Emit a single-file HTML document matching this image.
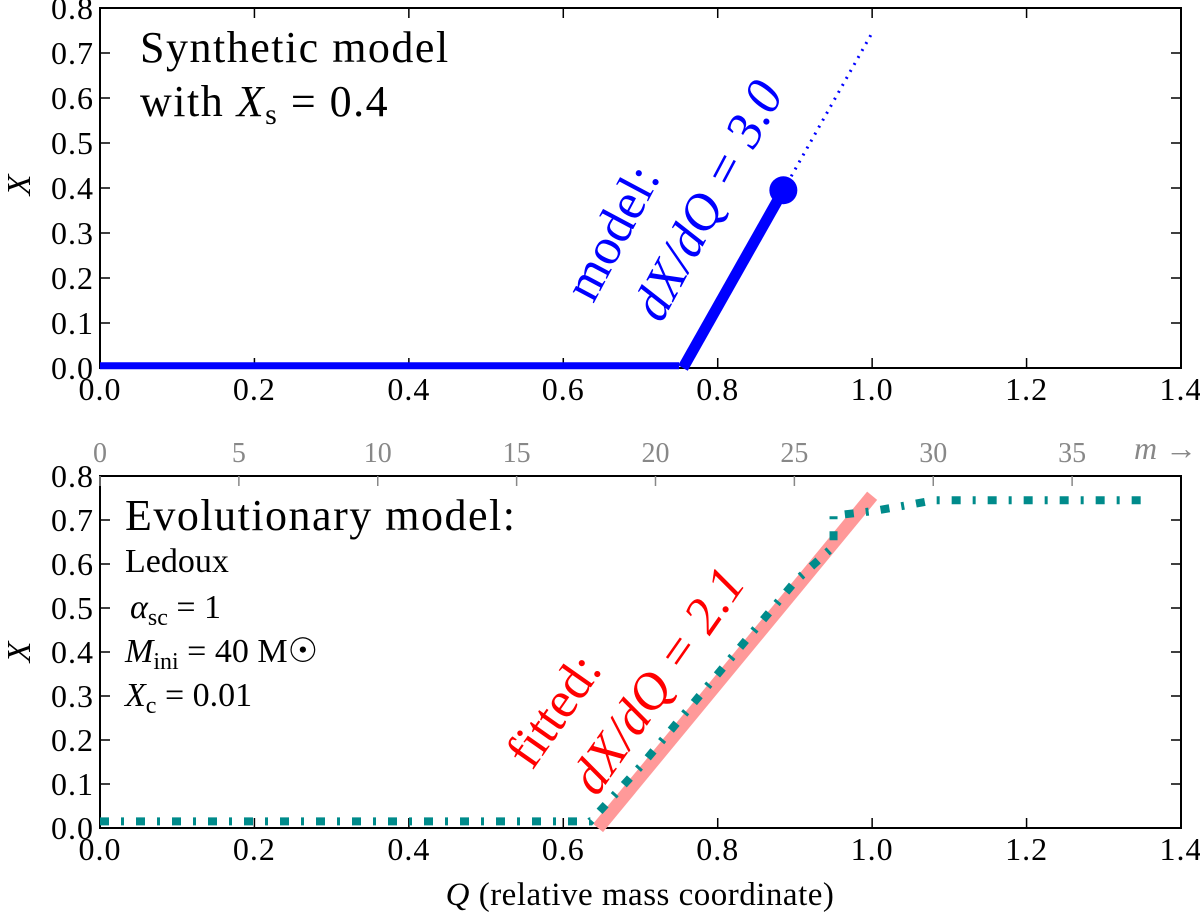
<!DOCTYPE html>
<html><head><meta charset="utf-8"><style>
body{margin:0;background:#fff}
svg{display:block;font-family:"Liberation Serif","DejaVu Serif",serif}
</style></head><body>
<svg id="c" width="1200" height="918" viewBox="0 0 1200 918">
<g id="top"></g>
<g id="bot"></g>
<text x="30" y="185" font-size="34" font-style="italic" text-anchor="middle" transform="rotate(-90 30 185)">X</text>
<text x="30" y="652" font-size="34" font-style="italic" text-anchor="middle" transform="rotate(-90 30 652)">X</text>
<text x="640" y="905" font-size="33" text-anchor="middle" letter-spacing="0.5"><tspan font-style="italic">Q</tspan> (relative mass coordinate)</text>
<text x="140" y="62" font-size="44" letter-spacing="1.5">Synthetic model</text>
<text x="140" y="116" font-size="44" letter-spacing="1.5">with <tspan font-style="italic">X</tspan><tspan font-size="30" dy="8">s</tspan><tspan dy="-8"> = 0.4</tspan></text>
<text x="125" y="530" font-size="44" letter-spacing="1.5">Evolutionary model:</text>
<text x="125" y="572" font-size="34">Ledoux</text>
<text x="130" y="618" font-size="34"><tspan font-style="italic">α</tspan><tspan font-size="24" dy="7">sc</tspan><tspan dy="-7"> = 1</tspan></text>
<text x="125" y="662" font-size="34"><tspan font-style="italic">M</tspan><tspan font-size="24" dy="7">ini</tspan><tspan dy="-7"> = 40 M</tspan><tspan>☉</tspan></text>
<text x="125" y="706" font-size="34"><tspan font-style="italic">X</tspan><tspan font-size="24" dy="7">c</tspan><tspan dy="-7"> = 0.01</tspan></text>
<text x="613" y="249" font-size="52" fill="#0000ff" text-anchor="middle" transform="rotate(-62 613 233)">model:</text>
<text x="707" y="218" font-size="52" fill="#0000ff" text-anchor="middle" font-style="italic" transform="rotate(-62 707 200)">dX/dQ = 3.0</text>
<text x="553" y="728" font-size="52" fill="#ff0000" text-anchor="middle" transform="rotate(-55 553 710)">fitted:</text>
<text x="657" y="698" font-size="52" fill="#ff0000" text-anchor="middle" font-style="italic" transform="rotate(-55 657 680)">dX/dQ = 2.1</text>
<text x="1134" y="459" font-size="32" fill="#888" font-style="italic">m →</text>
</svg>
<script>
const xTicks=[0,0.2,0.4,0.6,0.8,1.0,1.2,1.4];
const yTicks=[0,0.1,0.2,0.3,0.4,0.5,0.6,0.7,0.8];
const mTicks=[0,5,10,15,20,25,30,35];
const mPerQ=27.8;
const flatModelX=[0,0.75];const flatModelY=[0.005,0.005];
const modelX=[0.755,0.885];const modelY=[0,0.395];
const extX=[0.885,1.0];const extY=[0.395,0.745];
const fitX=[0.645,1.0];const fitY=[0,0.755];
const evoX=[0,0.635,0.70,0.80,0.90,0.95,0.95,1.0,1.05,1.08,1.36];
const evoY=[0.015,0.015,0.14,0.35,0.56,0.64,0.71,0.72,0.735,0.745,0.745];
const L=100,R=1181;
const sx=v=>L+(R-L)*v/1.4;
const ns='http://www.w3.org/2000/svg';
function mk(t,a,p){const e=document.createElementNS(ns,t);for(const k in a)e.setAttribute(k,a[k]);p.appendChild(e);return e;}
function panel(g,T,B,name){
 const sy=v=>B-(B-T)*v/0.8;
 mk('rect',{x:L,y:T,width:R-L,height:B-T,fill:'none',stroke:'#000','stroke-width':2},g);
 xTicks.forEach(v=>{
  const l=mk('line',{x1:sx(v),x2:sx(v),y1:B,y2:B-10,stroke:'#000','stroke-width':1.5},g);
  
  
  const t=mk('text',{x:sx(v),y:B+32,'font-size':32,'text-anchor':'middle','letter-spacing':1},g);t.textContent=v.toFixed(1);
  
  
  if(name==='top'){mk('line',{x1:sx(v),x2:sx(v),y1:T,y2:T+10,stroke:'#000','stroke-width':1.5},g);}
 });
 yTicks.forEach(v=>{
  mk('line',{x1:L,x2:L+10,y1:sy(v),y2:sy(v),stroke:'#000','stroke-width':1.5},g);
  mk('line',{x1:R,x2:R-10,y1:sy(v),y2:sy(v),stroke:'#000','stroke-width':1.5},g);
  const t=mk('text',{x:L-6,y:sy(v)+11,'font-size':32,'text-anchor':'end','letter-spacing':1},g);t.textContent=v.toFixed(1);
  
  
 });
 return sy;
}
function pts(X,Y,sy){return X.map((x,i)=>sx(x)+','+sy(Y[i])).join(' ');}
const gTop=document.getElementById('top'),gBot=document.getElementById('bot');
const sy1=panel(gTop,8,368,'top');
let e=mk('polyline',{points:pts(flatModelX,flatModelY,sy1),fill:'none',stroke:'#0000ff','stroke-width':7},gTop);


e=mk('polyline',{points:pts(modelX,modelY,sy1),fill:'none',stroke:'#0000ff','stroke-width':11},gTop);


e=mk('polyline',{points:pts(extX,extY,sy1),fill:'none',stroke:'#0000ff','stroke-width':3,'stroke-dasharray':'2 6'},gTop);


e=mk('circle',{cx:sx(modelX[1]),cy:sy1(modelY[1]),r:14,fill:'#0000ff'},gTop);


const sy2=panel(gBot,476,828,'bot');
mTicks.forEach(m=>{
 const x=sx(m/mPerQ);
 const l=mk('line',{x1:x,x2:x,y1:476,y2:486,stroke:'#888','stroke-width':1.5},gBot);
 
 
 const t=mk('text',{x:x,y:462,'font-size':28,'text-anchor':'middle',fill:'#888'},gBot);t.textContent=m;
 
 
});
e=mk('polyline',{points:pts(fitX,fitY,sy2),fill:'none',stroke:'#ff9999','stroke-width':13},gBot);


e=mk('polyline',{points:pts(evoX,evoY,sy2),fill:'none',stroke:'#008b8b','stroke-width':8,'stroke-dasharray':'9 12 3 12'},gBot);


</script>
</body></html>
